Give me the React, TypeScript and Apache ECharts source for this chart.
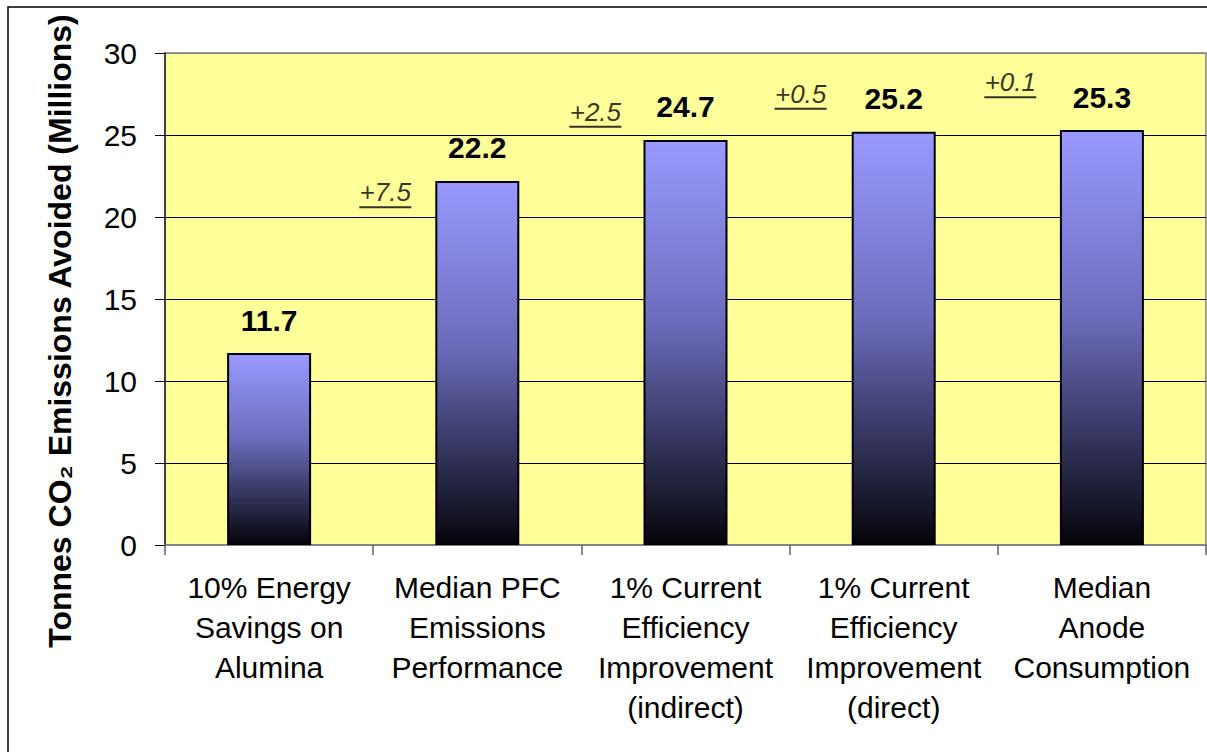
import React, { useEffect, useRef } from "react";
import * as echarts from "echarts";

const categories = [
  "10% Energy\nSavings on\nAlumina",
  "Median PFC\nEmissions\nPerformance",
  "1% Current\nEfficiency\nImprovement\n(indirect)",
  "1% Current\nEfficiency\nImprovement\n(direct)",
  "Median\nAnode\nConsumption",
];
const values = [11.7, 22.2, 24.7, 25.2, 25.3];
const increments = ["+7.5", "+2.5", "+0.5", "+0.1"];
const incrementX = [1.058, 2.067, 3.053, 4.06];
const incrementY = [20.6, 25.5, 26.6, 27.3];
const yMin = 0;
const yMax = 30;
const yInterval = 5;
const yTitle = "Tonnes CO₂ Emissions Avoided (Millions)";

const FONT = "'Liberation Sans', Arial, 'DejaVu Sans', sans-serif";

export default function App() {
  const ref = useRef<HTMLDivElement>(null);
  useEffect(() => {
    if (!ref.current) return;
    const chart = echarts.init(ref.current, undefined, { renderer: "svg" });
    chart.setOption({
      animation: false,
      textStyle: { fontFamily: FONT },
      grid: {
        left: 165,
        top: 53,
        right: 1,
        bottom: 207,
        show: true,
        backgroundColor: "#FFFF99",
        borderColor: "#808080",
        borderWidth: 1.5,
      },
      xAxis: [
        {
          type: "category",
          data: categories,
          axisLine: { lineStyle: { color: "#808080", width: 1.5 } },
          axisTick: { show: true, length: 10, lineStyle: { color: "#606060", width: 1.5 } },
          axisLabel: {
            fontSize: 30,
            lineHeight: 40,
            color: "#000",
            margin: 22,
            interval: 0,
            fontFamily: FONT,
          },
        },
        {
          type: "value",
          min: 0,
          max: 5,
          show: false,
        },
      ],
      yAxis: {
        type: "value",
        min: yMin,
        max: yMax,
        interval: yInterval,
        axisLine: { show: true, lineStyle: { color: "#404040", width: 2 } },
        axisTick: { show: true, length: 10, lineStyle: { color: "#000", width: 1 } },
        axisLabel: { fontSize: 30, color: "#000", margin: 28, fontFamily: FONT },
        splitLine: {
          show: true,
          lineStyle: {
            color: ["#808080", "#000", "#000", "#000", "#000", "#000", "#808080"],
            width: 1,
          },
        },
      },
      series: [
        {
          type: "bar",
          data: values,
          xAxisIndex: 0,
          barWidth: 84,
          itemStyle: {
            color: new echarts.graphic.LinearGradient(0, 0, 0, 1, [
              { offset: 0, color: "#9999FF" },
              { offset: 0.45, color: "#6C6CBC" },
              { offset: 0.8, color: "#2A2A4C" },
              { offset: 1, color: "#05050C" },
            ]),
            borderColor: "#000",
            borderWidth: 2,
          },
          label: {
            show: true,
            position: "top",
            distance: 18,
            fontSize: 30,
            fontWeight: "bold",
            color: "#000",
            fontFamily: FONT,
          },
        },
        {
          type: "scatter",
          xAxisIndex: 1,
          data: incrementX.map((x, i) => [x, incrementY[i], increments[i]]),
          symbol: "rect",
          symbolSize: [52, 2],
          itemStyle: { color: "#000" },
          label: {
            show: true,
            position: "top",
            distance: 1,
            formatter: (p: any) => p.data[2],
            fontSize: 26,
            fontStyle: "italic",
            color: "#000",
            fontFamily: FONT,
          },
          z: 5,
        },
      ],
      graphic: [
        {
          type: "rect",
          shape: { x: 8, y: 7, width: 1220, height: 770 },
          style: { fill: "none", stroke: "#000", lineWidth: 1.5 },
          silent: true,
        },
        {
          type: "text",
          x: 60,
          y: 331,
          rotation: Math.PI / 2,
          style: {
            text: yTitle,
            font: `bold 32px ${FONT}`,
            fill: "#000",
            align: "center",
            verticalAlign: "middle",
          },
        },
      ],
    });
    return () => chart.dispose();
  }, []);
  return (
    <div
      ref={ref}
      style={{ position: "absolute", left: 0, top: 0, width: 1207, height: 752, background: "#fff" }}
    />
  );
}
